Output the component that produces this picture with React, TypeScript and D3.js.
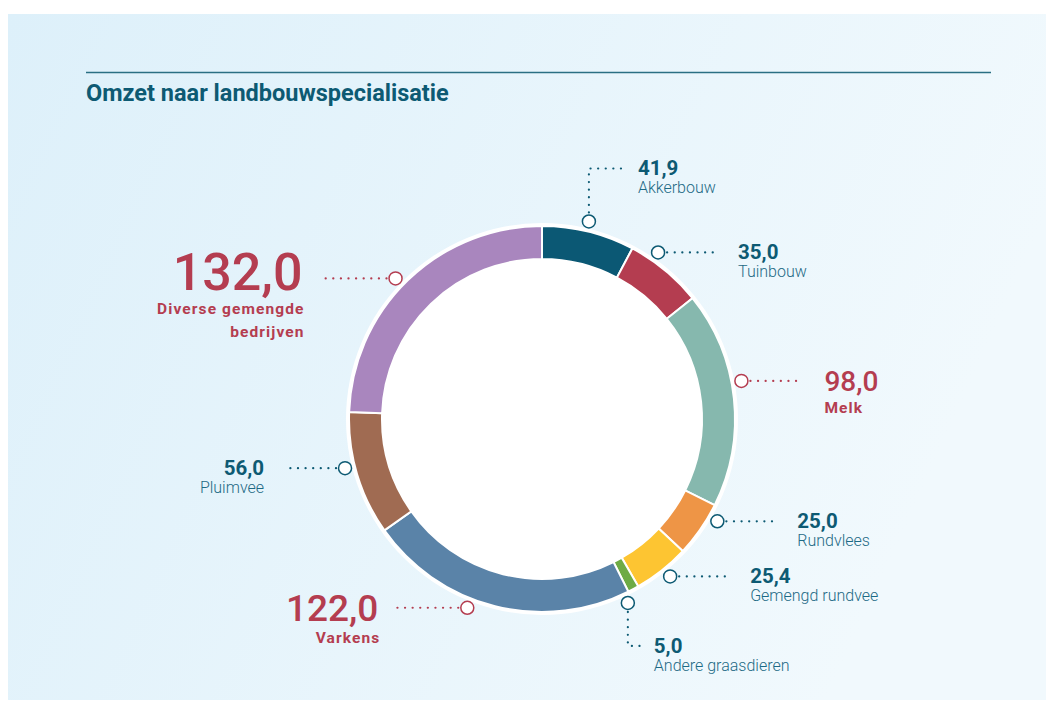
import React from "react";
import * as d3 from "d3";

const categories = [
  "Akkerbouw",
  "Tuinbouw",
  "Melk",
  "Rundvlees",
  "Gemengd rundvee",
  "Andere graasdieren",
  "Varkens",
  "Pluimvee",
  "Diverse gemengde bedrijven",
];
const values = [41.9, 35.0, 98.0, 25.0, 25.4, 5.0, 122.0, 56.0, 132.0];
const colors = [
  "#0b5874",
  "#b43d50",
  "#86b8ae",
  "#ee9546",
  "#fdc532",
  "#6eab45",
  "#5a83a8",
  "#a06b52",
  "#a986be",
];
const highlighted = [false, false, true, false, false, false, true, false, true];

// annotation layout (label placement only)
type Ann = {
  angleShift: number;
  kind: "h" | "up" | "down";
  side: "left" | "right";
  lineLen: number;
  vLen?: number;
  gap: number;
};
const annotations: Ann[] = [
  { angleShift: -0.6, kind: "up", side: "right", lineLen: 34, vLen: 53, gap: 15 },
  { angleShift: -4.7, kind: "h", side: "right", lineLen: 52, gap: 19 },
  { angleShift: -4.7, kind: "h", side: "right", lineLen: 50, gap: 24 },
  { angleShift: -4.6, kind: "h", side: "right", lineLen: 50, gap: 21 },
  { angleShift: -0.8, kind: "h", side: "right", lineLen: 51, gap: 20 },
  { angleShift: 3.2, kind: "down", side: "right", lineLen: 14, vLen: 43, gap: 12 },
  { angleShift: 7.5, kind: "h", side: "left", lineLen: 68, gap: 12 },
  { angleShift: 2.6, kind: "h", side: "left", lineLen: 52, gap: 20 },
  { angleShift: -2.2, kind: "h", side: "left", lineLen: 68, gap: 16 },
];

const W = 1054;
const H = 702;
const cx = 542;
const cy = 419;
const rOuter = 193;
const rInner = 160;
const rMarker = 203;
const TEAL = "#0d5a73";
const RED = "#b43d50";

const fmt = (v: number) => v.toFixed(1).replace(".", ",");

export default function App() {
  const pie = d3
    .pie<number>()
    .sort(null)
    .value((d) => d)
    .startAngle(0)
    .endAngle(2 * Math.PI);
  const arcs = pie(values);
  const arcGen = d3
    .arc<d3.PieArcDatum<number>>()
    .innerRadius(rInner)
    .outerRadius(rOuter);

  const font = "Roboto, 'Noto Sans', sans-serif";

  return (
    <svg
      width={W}
      height={H}
      style={{ position: "absolute", left: 0, top: 0 }}
      fontFamily={font}
    >
      <defs>
        <linearGradient id="bg" x1="0" y1="0" x2="1" y2="0.3">
          <stop offset="0" stopColor="#ddf0fa" />
          <stop offset="1" stopColor="#f1f9fd" />
        </linearGradient>
      </defs>
      <rect x={0} y={0} width={W} height={H} fill="#ffffff" />
      <rect x={8} y={14} width={1038} height={686} fill="url(#bg)" />
      <line x1={86} x2={991} y1={72.5} y2={72.5} stroke="#2a6f83" strokeWidth={1.5} />
      <text x={86} y={101} fontSize={23.5} fontWeight={700} fill={TEAL}>
        Omzet naar landbouwspecialisatie
      </text>

      <g transform={`translate(${cx},${cy})`}>
        <circle r={rOuter + 3} fill="#ffffff" />
        {arcs.map((a, i) => (
          <path
            key={categories[i]}
            d={arcGen(a) || ""}
            fill={colors[i]}
            stroke="#ffffff"
            strokeWidth={2}
          />
        ))}
      </g>

      {arcs.map((a, i) => {
        const ann = annotations[i];
        const mid = (a.startAngle + a.endAngle) / 2 + (ann.angleShift * Math.PI) / 180;
        const mx = cx + rMarker * Math.sin(mid);
        const my = cy - rMarker * Math.cos(mid);
        const hl = highlighted[i];
        const col = hl ? RED : TEAL;
        const dir = ann.side === "right" ? 1 : -1;
        let pts: [number, number][] = [];
        let endX = 0;
        let endY = 0;
        if (ann.kind === "h") {
          pts = [
            [mx + dir * 9, my],
            [mx + dir * (9 + ann.lineLen), my],
          ];
          endX = mx + dir * (9 + ann.lineLen);
          endY = my;
        } else {
          const vy = ann.kind === "up" ? -1 : 1;
          const cornerY = my + vy * (ann.vLen || 0);
          pts = [
            [mx, my + vy * 9],
            [mx, cornerY],
            [mx + ann.lineLen, cornerY],
          ];
          endX = mx + ann.lineLen;
          endY = cornerY;
        }
        const line = d3.line<[number, number]>()(pts) || "";
        const tx = endX + dir * ann.gap;
        const anchor = dir === 1 ? "start" : "end";
        const nameLines =
          i === 8 ? ["Diverse gemengde", "bedrijven"] : [categories[i]];

        let valueSize = 20.5;
        let valueDy = 7;
        let nameFirstDy = 25;
        let nameStep = 23;
        if (hl) {
          valueSize = i === 8 ? 52 : i === 6 ? 37 : 28;
          valueDy = i === 8 ? 12 : i === 6 ? 13 : 10;
          nameFirstDy = i === 8 ? 36 : i === 6 ? 35 : 32;
          nameStep = 23;
        }
        return (
          <g key={"ann" + i}>
            <path
              d={line}
              fill="none"
              stroke={col}
              strokeWidth={2.2}
              strokeDasharray="0.1 7.5"
              strokeLinecap="round"
            />
            <circle cx={mx} cy={my} r={6.5} fill="#ffffff" stroke={col} strokeWidth={1.5} />
            <text
              x={tx}
              y={endY + valueDy}
              fontSize={valueSize}
              fontWeight={hl ? 500 : 700}
              fill={col}
              textAnchor={anchor}
            >
              {fmt(values[i])}
            </text>
            {nameLines.map((ln, k) => (
              <text
                key={k}
                x={tx + (hl && dir === -1 ? 2 : 0)}
                y={endY + nameFirstDy + k * nameStep}
                fontSize={hl ? 15.5 : 16}
                fontWeight={hl ? 700 : 300}
                letterSpacing={hl ? 1.1 : 0}
                fill={hl ? RED : "#1d6a85"}
                textAnchor={anchor}
              >
                {ln}
              </text>
            ))}
          </g>
        );
      })}
    </svg>
  );
}
